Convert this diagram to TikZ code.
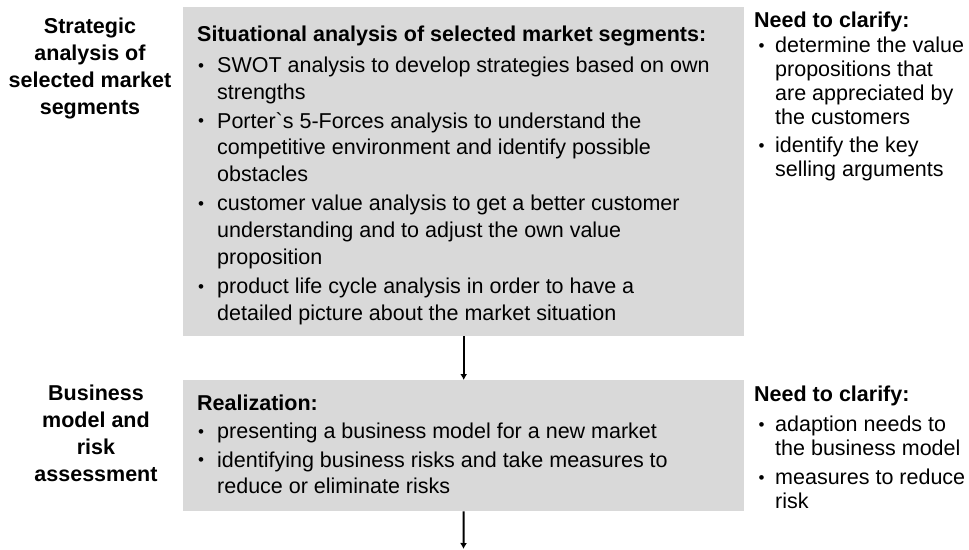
\documentclass[tikz,border=0pt]{standalone}
\usepackage{fontspec}
\setmainfont{Liberation Sans}
\usetikzlibrary{arrows.meta}
\definecolor{boxgray}{RGB}{217,217,217}
\newcommand{\dotb}{\raisebox{1.2pt}{\fontsize{17}{17}\selectfont •}}
\newcommand{\bl}{\makebox[20pt][l]{\hspace*{1pt}\dotb}}
\newcommand{\bc}{\hspace*{20pt}}
\newcommand{\rbl}{\hspace*{4.5pt}\makebox[16.5pt][l]{\dotb}}
\newcommand{\rbc}{\hspace*{21pt}}
\begin{document}
\begin{tikzpicture}[x=1pt,y=-1pt,
  box/.style={fill=boxgray, draw=none, inner sep=0pt, anchor=north west},
  txt/.style={inner sep=0pt, anchor=north west, align=left, font=\fontsize{21.5}{26.8}\selectfont},
  rtxt/.style={inner sep=0pt, anchor=north west, align=left, font=\fontsize{21.5}{24}\selectfont},
  lbl/.style={inner sep=0pt, anchor=north, align=center, font=\fontsize{21.5}{27}\selectfont\bfseries},
  arr/.style={line width=2pt, -{Latex[length=6pt,width=7pt]}}]
\useasboundingbox (0,0) rectangle (969,549);
% boxes
\node[box, minimum width=561pt, minimum height=329pt] (box1) at (183,7) {};
\node[box, minimum width=561pt, minimum height=131pt] (box2) at (183,380) {};
% left labels
\node[lbl] (lab1) at (90,14.1) {\strut Strategic\\analysis of\\selected market\\segments};
\node[lbl] (lab2) at (96,381) {\strut Business\\model and\\risk\\assessment};
% box 1 text (strut height 18.76)
\node[txt] (t1) at (197,22.24) {\strut\textbf{Situational analysis of selected market segments:}\\[4.2pt]
\bl SWOT analysis to develop strategies based on own\\
\bc strengths\\[2.2pt]
\bl Porter\textasciigrave s 5-Forces analysis to understand the\\
\bc competitive environment and identify possible\\
\bc obstacles\\[2.2pt]
\bl customer value analysis to get a better customer\\
\bc understanding and to adjust the own value\\
\bc proposition\\[2.2pt]
\bl product life cycle analysis in order to have a\\
\bc detailed picture about the market situation};
% box 2 text
\node[txt] (t2) at (197,391.6) {\strut\textbf{Realization:}\\[1.5pt]
\bl presenting a business model for a new market\\[1.5pt]
\bl identifying business risks and take measures to\\
\bc reduce or eliminate risks};
% right column 1 (strut height 16.8)
\node[rtxt] (r1) at (754,10.2) {\strut\textbf{Need to clarify:}\\[1pt]
\rbl determine the value\\
\rbc propositions that\\
\rbc are appreciated by\\
\rbc the customers\\[4pt]
\rbl identify the key\\
\rbc selling arguments};
% right column 2
\node[rtxt] (r2) at (754,384.2) {\strut\textbf{Need to clarify:}\\[6pt]
\rbl adaption needs to\\
\rbc the business model\\[5pt]
\rbl measures to reduce\\
\rbc risk};
% arrows
\coordinate (end) at (463.5,549);
\draw[arr] (box1.south) -- (box2.north);
\draw[arr] (box2.south) -- (end);
\end{tikzpicture}
\end{document}
